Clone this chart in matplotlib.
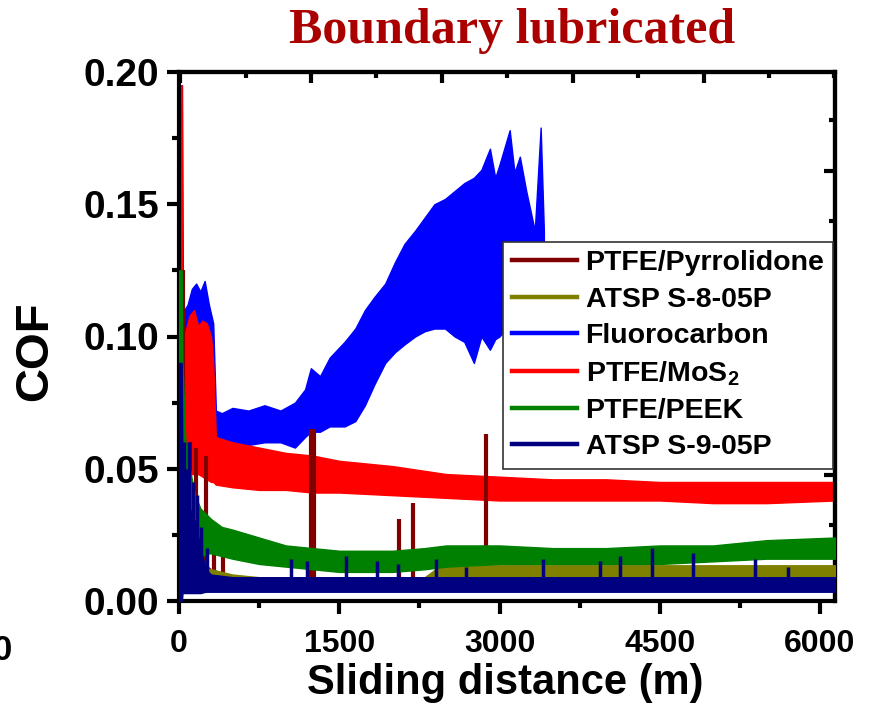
import numpy as np
import matplotlib
matplotlib.use('Agg')
import matplotlib.pyplot as plt
from matplotlib.lines import Line2D
from matplotlib.ticker import MultipleLocator

plt.rcParams['font.family'] = ['Liberation Sans', 'DejaVu Sans']
plt.rcParams['font.weight'] = 'bold'
plt.rcParams['mathtext.fontset'] = 'custom'
plt.rcParams['mathtext.rm'] = 'Liberation Sans:bold'
plt.rcParams['mathtext.it'] = 'Liberation Sans:bold'
plt.rcParams['mathtext.bf'] = 'Liberation Sans:bold'

# ---------------- data ----------------
series_names = ['PTFE/Pyrrolidone', 'ATSP S-8-05P', 'Fluorocarbon',
                'PTFE/MoS$_2$', 'PTFE/PEEK', 'ATSP S-9-05P']
series_colors = ['#800000', '#808000', '#0000FF', '#FF0000', '#008000', '#000080']

x_ticks = [0, 1500, 3000, 4500, 6000]
y_ticks = [0.00, 0.05, 0.10, 0.15, 0.20]

# Fluorocarbon (envelope of the noisy trace)
fluoro_x = [0, 28, 36, 50, 80, 120, 160, 200, 240, 280, 320, 345, 400, 500, 650, 800, 950,
            1085, 1180, 1234, 1320, 1410, 1550, 1650, 1740, 1830, 1930, 2020, 2110, 2210,
            2300, 2390, 2490, 2580, 2670, 2760, 2830, 2910, 2960, 3000, 3095, 3140, 3190,
            3250, 3330, 3385, 3415]
fluoro_hi = [0.195, 0.195, 0.112, 0.110, 0.112, 0.118, 0.120, 0.117, 0.121, 0.112, 0.105,
             0.072, 0.071, 0.073, 0.072, 0.074, 0.072, 0.075, 0.080, 0.088, 0.085, 0.092,
             0.098, 0.103, 0.110, 0.115, 0.120, 0.128, 0.135, 0.140, 0.145, 0.150, 0.152,
             0.155, 0.158, 0.160, 0.163, 0.171, 0.160, 0.165, 0.178, 0.162, 0.168, 0.155,
             0.140, 0.179, 0.140]
fluoro_lo = [0.000, 0.000, 0.090, 0.090, 0.092, 0.094, 0.095, 0.095, 0.095, 0.095, 0.090,
             0.060, 0.059, 0.060, 0.059, 0.060, 0.060, 0.058, 0.062, 0.064, 0.064, 0.066,
             0.066, 0.068, 0.074, 0.082, 0.090, 0.094, 0.097, 0.100, 0.102, 0.103, 0.103,
             0.100, 0.098, 0.090, 0.100, 0.095, 0.099, 0.100, 0.105, 0.110, 0.110, 0.115,
             0.120, 0.120, 0.120]

# PTFE/MoS2
mos2_x = [0, 25, 32, 60, 100, 140, 180, 220, 260, 300, 320, 345, 500, 750, 1000, 1250,
          1500, 2000, 2500, 3000, 3500, 4000, 4500, 5000, 5500, 6140]
mos2_hi = [0.195, 0.195, 0.100, 0.102, 0.108, 0.110, 0.104, 0.106, 0.105, 0.100, 0.090,
           0.062, 0.060, 0.058, 0.056, 0.055, 0.053, 0.051, 0.048, 0.047, 0.046, 0.046,
           0.045, 0.045, 0.045, 0.045]
mos2_lo = [0.000, 0.000, 0.048, 0.048, 0.048, 0.048, 0.048, 0.047, 0.046, 0.045, 0.045,
           0.044, 0.043, 0.042, 0.042, 0.041, 0.041, 0.040, 0.039, 0.038, 0.038, 0.038,
           0.038, 0.037, 0.037, 0.038]

# PTFE/PEEK
peek_x = [0, 25, 32, 60, 100, 150, 200, 250, 300, 400, 500, 750, 1000, 1250, 1500, 2000,
          2300, 2500, 3000, 3500, 4000, 4500, 5000, 5500, 6140]
peek_hi = [0.125, 0.125, 0.090, 0.060, 0.050, 0.040, 0.035, 0.033, 0.031, 0.028, 0.027,
           0.024, 0.021, 0.020, 0.019, 0.019, 0.020, 0.021, 0.021, 0.020, 0.020, 0.021,
           0.021, 0.023, 0.024]
peek_lo = [0.000, 0.000, 0.012, 0.012, 0.012, 0.014, 0.016, 0.018, 0.018, 0.017, 0.016,
           0.014, 0.013, 0.012, 0.011, 0.011, 0.012, 0.013, 0.014, 0.014, 0.014, 0.014,
           0.015, 0.016, 0.016]

# ATSP S-8-05P
s8_x = [0, 25, 150, 300, 500, 750, 1000, 1500, 2000, 2300, 2450, 3000, 4000, 5000, 6140]
s8_hi = [0.020, 0.020, 0.013, 0.012, 0.010, 0.009, 0.009, 0.009, 0.009, 0.009, 0.0135,
         0.0135, 0.0135, 0.0135, 0.0135]
s8_lo = [0.004, 0.004, 0.004, 0.005, 0.005, 0.005, 0.005, 0.005, 0.005, 0.005, 0.008,
         0.008, 0.0085, 0.0085, 0.0085]

# ATSP S-9-05P
s9_x = [0, 25, 32, 60, 100, 150, 200, 250, 300, 500, 1000, 2000, 3000, 4000, 5000, 6140]
s9_hi = [0.090, 0.090, 0.050, 0.045, 0.035, 0.030, 0.020, 0.012, 0.010, 0.009, 0.009,
         0.009, 0.009, 0.009, 0.009, 0.009]
s9_lo = [0.000, 0.000, 0.003, 0.003, 0.003, 0.003, 0.003, 0.0035, 0.0035, 0.0035, 0.0035,
         0.0035, 0.0035, 0.0035, 0.0035, 0.0035]
s9_spike_x = [50, 70, 90, 130, 170, 210, 260, 1050, 1200, 1560, 1850, 2050, 2403, 2686,
              3408, 3942, 4131, 4430, 4807, 5388, 5702]
s9_spike_y = [0.060, 0.050, 0.060, 0.045, 0.040, 0.028, 0.020, 0.016, 0.015, 0.017,
              0.015, 0.014, 0.016, 0.013, 0.016, 0.015, 0.017, 0.020, 0.018, 0.016, 0.013]

# PTFE/Pyrrolidone
pyr_x = [0, 20, 40, 200, 300, 600, 6140]
pyr_hi = [0.010, 0.010, 0.020, 0.015, 0.012, 0.008, 0.008]
pyr_lo = [0.004, 0.004, 0.004, 0.004, 0.004, 0.004, 0.004]
pyr_spike_x = [35, 100, 160, 250, 330, 410, 1235, 1265, 2055, 2190, 2870]
pyr_spike_y = [0.125, 0.060, 0.058, 0.055, 0.030, 0.024, 0.065, 0.065, 0.031, 0.037, 0.063]

# ---------------- figure ----------------
fig = plt.figure(figsize=(8.70, 7.28), dpi=100)
ax = fig.add_axes([179 / 870, 1 - 601 / 728, 656 / 870, 529 / 728])

ax.fill_between(fluoro_x, fluoro_lo, fluoro_hi, color=series_colors[2], lw=1, zorder=1)
ax.fill_between(mos2_x, mos2_lo, mos2_hi, color=series_colors[3], lw=1, zorder=2)
ax.fill_between(pyr_x, pyr_lo, pyr_hi, color=series_colors[0], lw=1, zorder=3)
ax.vlines(pyr_spike_x, 0.004, pyr_spike_y, color=series_colors[0], lw=3, zorder=3)
ax.fill_between(s8_x, s8_lo, s8_hi, color=series_colors[1], lw=1, zorder=4)
ax.fill_between(peek_x, peek_lo, peek_hi, color=series_colors[4], lw=1, zorder=5)
ax.fill_between(s9_x, s9_lo, s9_hi, color=series_colors[5], lw=1, zorder=6)
ax.vlines(s9_spike_x, 0.004, s9_spike_y, color=series_colors[5], lw=2.5, zorder=6)

ax.set_xlim(0, 6140)
ax.set_ylim(0, 0.2)
ax.set_xticks(x_ticks)
ax.set_xticklabels([str(v) for v in x_ticks], fontsize=23, fontweight='bold')
ax.xaxis.set_minor_locator(MultipleLocator(750))
ax.set_yticks(y_ticks)
ax.set_yticklabels(['%.2f' % v for v in y_ticks], fontsize=28, fontweight='bold')
ax.yaxis.set_minor_locator(MultipleLocator(0.025))

for sp in ax.spines.values():
    sp.set_linewidth(3)
ax.tick_params(which='major', direction='out', length=9, width=3)
ax.tick_params(which='minor', direction='out', length=5, width=3)
ax.tick_params(axis='x', pad=11)
ax.tick_params(axis='y', pad=5)

# top / right axes with their own tick spacing
top = ax.secondary_xaxis('top', functions=(lambda x: (x - 10) / 1225.0,
                                           lambda u: u * 1225.0 + 10))
top.set_xticks([0, 1, 2, 3, 4])
top.xaxis.set_minor_locator(MultipleLocator(0.5))
top.tick_params(which='major', direction='in', length=8, width=3, labeltop=False)
top.tick_params(which='minor', direction='in', length=4, width=3)
top.spines['top'].set_linewidth(3)

right = ax.secondary_yaxis('right', functions=(lambda y: (y - 0.0095) / 0.0383,
                                               lambda v: v * 0.0383 + 0.0095))
right.set_yticks([0, 1, 2, 3, 4])
right.yaxis.set_minor_locator(MultipleLocator(0.5))
right.tick_params(which='major', direction='in', length=8, width=3, labelright=False)
right.tick_params(which='minor', direction='in', length=4, width=3)
right.spines['right'].set_linewidth(3)

handles = [Line2D([0], [0], color=c, lw=3.2) for c in series_colors]
leg = ax.legend(handles, series_names, loc='upper right', bbox_to_anchor=(0.997, 0.679),
                prop={'size': 20.5, 'weight': 'bold'}, frameon=True, fancybox=False,
                framealpha=1, edgecolor='#333333', handlelength=2.3, handletextpad=0.3,
                labelspacing=0.36, borderpad=0.3, borderaxespad=0)
leg.get_frame().set_linewidth(1.2)
leg.set_zorder(10)

fig.text(35 / 870, 1 - 351 / 728, 'COF', rotation=90, ha='center', va='center',
         fontsize=34, fontweight='bold')
fig.text(505 / 870, 1 - 683 / 728, 'Sliding distance (m)', ha='center', va='center',
         fontsize=30, fontweight='bold')
fig.text(512 / 870, 1 - 31 / 728, 'Boundary lubricated', ha='center', va='center',
         fontsize=36, fontweight='bold', family='Liberation Serif', color='#AA0000')
fig.text(12 / 870, 1 - 651 / 728, '0', ha='right', va='center', fontsize=25,
         fontweight='bold')

fig.savefig('out.png', dpi=100)
